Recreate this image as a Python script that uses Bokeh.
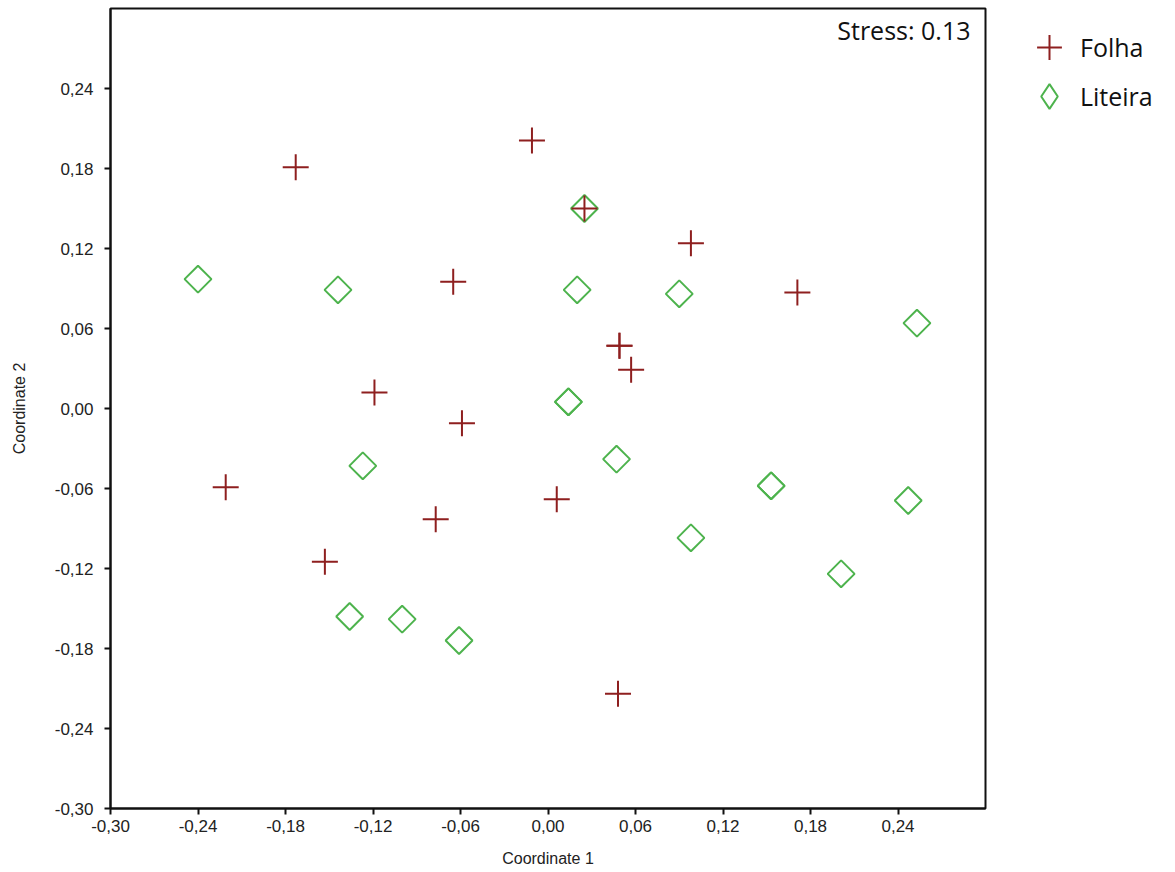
from bokeh.plotting import figure
from bokeh.layouts import row
from bokeh.models import FixedTicker, Label, Legend, LegendItem, ColumnDataSource
from bokeh.embed import file_html
from bokeh.resources import INLINE

# NMDS ordination scores (Coordinate 1, Coordinate 2) per sample type
folha_x = [-0.011, -0.173, 0.025, 0.098, -0.065, 0.171, 0.049, 0.049, 0.057,
           -0.119, -0.059, -0.221, 0.006, -0.077, -0.153, 0.048]
folha_y = [0.201, 0.181, 0.150, 0.124, 0.095, 0.087, 0.047, 0.047, 0.029,
           0.012, -0.011, -0.059, -0.068, -0.083, -0.115, -0.214]

liteira_x = [-0.240, -0.144, 0.025, 0.020, 0.090, 0.253, 0.014, 0.014, -0.127,
             0.047, 0.153, 0.153, 0.247, 0.098, 0.201, -0.136, -0.100, -0.061]
liteira_y = [0.097, 0.089, 0.150, 0.089, 0.086, 0.064, 0.005, 0.005, -0.043,
             -0.038, -0.058, -0.058, -0.069, -0.097, -0.124, -0.156, -0.158, -0.174]

tick_values = [-0.30, -0.24, -0.18, -0.12, -0.06, 0.00, 0.06, 0.12, 0.18, 0.24]
tick_labels = ["-0,30", "-0,24", "-0,18", "-0,12", "-0,06",
               "0,00", "0,06", "0,12", "0,18", "0,24"]

series_names = ["Folha", "Liteira"]
stress_text = "Stress: 0.13"

CROSS_RED = "#8E1F1F"
DIAMOND_GREEN = "#4DB34D"
NAN = float("nan")

# ---- ordination plot -------------------------------------------------------
p = figure(width=990, height=872, frame_width=875, frame_height=800,
           x_range=(-0.30, 0.30), y_range=(-0.30, 0.30),
           output_backend="svg", toolbar_location=None,
           min_border_left=110, min_border_right=5,
           min_border_top=8, min_border_bottom=64)

p.xgrid.visible = False
p.ygrid.visible = False
p.background_fill_color = "white"
p.border_fill_color = "white"
p.outline_line_color = "#111111"
p.outline_line_width = 2

overrides = {v: s for v, s in zip(tick_values, tick_labels)}
for ax in (p.xaxis[0], p.yaxis[0]):
    ax.ticker = FixedTicker(ticks=tick_values)
    ax.major_label_overrides = overrides
    ax.minor_tick_line_color = None
    ax.major_tick_in = 0
    ax.major_tick_out = 6
    ax.major_tick_line_width = 2
    ax.major_tick_line_color = "#111111"
    ax.axis_line_width = 2
    ax.axis_line_color = "#111111"
    ax.major_label_text_font = "Liberation Sans"
    ax.major_label_text_font_size = "17px"
    ax.major_label_text_color = "#222222"
    ax.axis_label_text_font = "Liberation Sans"
    ax.axis_label_text_font_size = "16px"
    ax.axis_label_text_font_style = "normal"
    ax.axis_label_text_color = "#222222"

p.xaxis.major_label_standoff = 5
p.yaxis.major_label_standoff = 11
p.xaxis.axis_label = "Coordinate 1"
p.yaxis.axis_label = "Coordinate 2"
p.xaxis.axis_label_standoff = 15
p.yaxis.axis_label_standoff = 24

src_f = ColumnDataSource(dict(x=folha_x, y=folha_y))
src_l = ColumnDataSource(dict(x=liteira_x, y=liteira_y))

# open diamonds drawn as squares turned by 45 degrees
p.scatter("x", "y", source=src_l, marker="square", angle=0.7853981634,
          size=19, fill_color=None, line_color=DIAMOND_GREEN, line_width=2)
p.scatter("x", "y", source=src_f, marker="cross", size=26,
          line_color=CROSS_RED, line_width=2)

p.add_layout(Label(x=0.2897, y=0.2963, text=stress_text, text_align="right",
                   text_baseline="top", text_font="Open Sans",
                   text_font_size="25px", text_color="#111111"))

# ---- legend panel on the right ---------------------------------------------
lg = figure(width=185, height=872, x_range=(0, 1), y_range=(0, 1),
            x_axis_type=None, y_axis_type=None,
            output_backend="svg", toolbar_location=None,
            min_border=0, outline_line_color=None)
lg.xgrid.visible = False
lg.ygrid.visible = False

# key glyphs only (no visible data)
key_f = lg.scatter(x=[NAN], y=[NAN], marker="cross",
                   line_color=CROSS_RED, line_width=2)
key_l = lg.scatter(x=[NAN], y=[NAN], marker="diamond", fill_color=None,
                   line_color=DIAMOND_GREEN, line_width=2)

legend_style = dict(glyph_width=62, glyph_height=62, label_height=62,
                    label_standoff=0, spacing=0, padding=0, margin=0,
                    border_line_color=None, background_fill_alpha=0,
                    label_text_font="Open Sans", label_text_font_size="25px",
                    label_text_color="#111111")
lg.add_layout(Legend(items=[LegendItem(label=series_names[0], renderers=[key_f])],
                     location=(28, 730), **legend_style), "center")
lg.add_layout(Legend(items=[LegendItem(label=series_names[1], renderers=[key_l])],
                     location=(28, 681), **legend_style), "center")

open("out.html", "w").write(file_html(row(p, lg), INLINE))
